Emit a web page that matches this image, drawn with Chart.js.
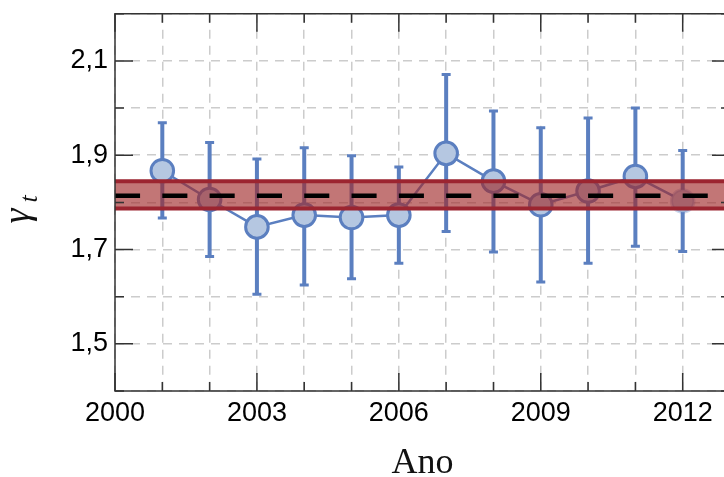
<!DOCTYPE html>
<html>
<head>
<meta charset="utf-8">
<script src="https://cdn.jsdelivr.net/npm/chart.js@4"></script>
<style>
  body { margin: 0; background: #fff; }
  #wrap { width: 724px; height: 477px; overflow: hidden; }
</style>
</head>
<body>
<div id="wrap"><canvas id="chart" width="740" height="477"></canvas></div>
<script>
const years = [2001, 2002, 2003, 2004, 2005, 2006, 2007, 2008, 2009, 2010, 2011, 2012];
const gamma = [1.867, 1.806, 1.748, 1.773, 1.768, 1.773, 1.904, 1.845, 1.795, 1.824, 1.855, 1.803];
const upper = [1.969, 1.927, 1.892, 1.916, 1.899, 1.875, 2.071, 1.994, 1.958, 1.979, 2.000, 1.910];
const lower = [1.767, 1.685, 1.605, 1.625, 1.638, 1.671, 1.738, 1.695, 1.631, 1.671, 1.707, 1.696];
const bandLow = 1.787;
const bandHigh = 1.845;
const meanValue = 1.814;
const xTickLabels = ["2000", "2003", "2006", "2009", "2012"];
const yTickLabels = ["1,5", "1,7", "1,9", "2,1"];

const blue = "#5b7fc0";
const blueFill = "#b5c7e1";
const frameColor = "#333";

// error bars under the points
const errorBars = {
  id: "errorBars",
  beforeDatasetsDraw(chart) {
    const { ctx, scales: { x, y } } = chart;
    ctx.save();
    ctx.strokeStyle = blue;
    years.forEach((yr, i) => {
      const px = x.getPixelForValue(yr);
      const top = y.getPixelForValue(upper[i]);
      const bot = y.getPixelForValue(lower[i]);
      ctx.lineWidth = 4;
      ctx.beginPath();
      ctx.moveTo(px, top);
      ctx.lineTo(px, bot);
      ctx.stroke();
      ctx.lineWidth = 3;
      ctx.beginPath();
      ctx.moveTo(px - 4.5, top);
      ctx.lineTo(px + 4.5, top);
      ctx.moveTo(px - 4.5, bot);
      ctx.lineTo(px + 4.5, bot);
      ctx.stroke();
    });
    ctx.restore();
  },
};

// band, mean line, frame with inward ticks, y title
const overlay = {
  id: "overlay",
  afterDatasetsDraw(chart) {
    const { ctx, chartArea: a, scales: { x, y } } = chart;
    const yHi = y.getPixelForValue(bandHigh);
    const yLo = y.getPixelForValue(bandLow);
    ctx.save();
    ctx.fillStyle = "rgba(160, 40, 40, 0.64)";
    ctx.fillRect(a.left, yHi, a.right - a.left, yLo - yHi);
    ctx.strokeStyle = "#9c2530";
    ctx.lineWidth = 4;
    ctx.beginPath();
    ctx.moveTo(a.left, yHi);
    ctx.lineTo(a.right, yHi);
    ctx.moveTo(a.left, yLo);
    ctx.lineTo(a.right, yLo);
    ctx.stroke();

    const perYear = x.getPixelForValue(2001) - x.getPixelForValue(2000);
    const ym = y.getPixelForValue(meanValue);
    ctx.strokeStyle = "#000";
    ctx.lineWidth = 4.5;
    ctx.setLineDash([perYear * 0.53, perYear * 0.47]);
    ctx.beginPath();
    ctx.moveTo(a.left, ym);
    ctx.lineTo(a.right, ym);
    ctx.stroke();
    ctx.setLineDash([]);

    ctx.strokeStyle = frameColor;
    ctx.lineWidth = 1.5;
    ctx.strokeRect(a.left, a.top, a.right - a.left, a.bottom - a.top);
    ctx.beginPath();
    x.ticks.forEach((t) => {
      const px = x.getPixelForValue(t.value);
      const len = xTickLabels.includes(String(t.value)) ? 18 : 9;
      ctx.moveTo(px, a.bottom);
      ctx.lineTo(px, a.bottom - len);
      ctx.moveTo(px, a.top);
      ctx.lineTo(px, a.top + len);
    });
    y.ticks.forEach((t) => {
      const py = y.getPixelForValue(t.value);
      const len = yTickLabels.includes(t.value.toFixed(1).replace(".", ",")) ? 18 : 9;
      ctx.moveTo(a.left, py);
      ctx.lineTo(a.left + len, py);
      ctx.moveTo(a.right, py);
      ctx.lineTo(a.right - len, py);
    });
    ctx.stroke();
    ctx.restore();
  },
  afterDraw(chart) {
    const { ctx } = chart;
    ctx.save();
    ctx.translate(29, 216);
    ctx.rotate(-Math.PI / 2);
    ctx.fillStyle = "#111";
    ctx.textAlign = "center";
    ctx.textBaseline = "alphabetic";
    ctx.font = "italic 38px 'Liberation Serif', serif";
    ctx.fillText("γ", 0, 0);
    ctx.font = "italic 26px 'Liberation Serif', serif";
    ctx.fillText("t", 17, 8);
    ctx.restore();
  },
};

const lastIdx = years.length - 1;

new Chart(document.getElementById("chart"), {
  type: "line",
  data: {
    datasets: [
      {
        data: years.map((yr, i) => ({ x: yr, y: gamma[i] })),
        borderColor: blue,
        borderWidth: 2.5,
        pointRadius: 11.3,
        pointBorderWidth: 3,
        pointBackgroundColor: blueFill,
        // last point is drawn faded in the original
        pointBorderColor: (c) => (c.dataIndex === lastIdx ? "rgba(91, 127, 192, 0.3)" : blue),
        tension: 0,
      },
    ],
  },
  options: {
    responsive: false,
    devicePixelRatio: 1,
    animation: false,
    layout: { autoPadding: false, padding: { top: 10, right: 10, left: 0, bottom: 0 } },
    plugins: { legend: { display: false }, tooltip: { enabled: false } },
    scales: {
      x: {
        type: "linear",
        min: 2000,
        max: 2013,
        afterFit: (s) => {
          s.height = 86;
        },
        ticks: {
          stepSize: 1,
          padding: 6,
          color: "#000",
          font: { family: "'Liberation Sans', Arial, sans-serif", size: 27 },
          maxRotation: 0,
          autoSkip: false,
          callback: (v) => (xTickLabels.includes(String(v)) ? String(v) : ""),
        },
        grid: { color: "#cccccc", lineWidth: 1.5, drawTicks: false },
        border: { display: false, dash: [9, 7] },
        title: {
          display: true,
          text: "Ano",
          color: "#111",
          font: { family: "'Liberation Serif', serif", size: 36, lineHeight: 0.72 },
          padding: { top: 0, bottom: 0 },
        },
      },
      y: {
        min: 1.4,
        max: 2.2,
        afterFit: (s) => {
          s.width = 115;
        },
        ticks: {
          stepSize: 0.1,
          padding: 7,
          color: "#000",
          font: { family: "'Liberation Sans', Arial, sans-serif", size: 27, lineHeight: 0.5 },
          autoSkip: false,
          callback: (v) => {
            const s = Number(v).toFixed(1).replace(".", ",");
            return yTickLabels.includes(s) ? s : "";
          },
        },
        grid: { color: "#cccccc", lineWidth: 1.5, drawTicks: false },
        border: { display: false, dash: [9, 7] },
      },
    },
  },
  plugins: [errorBars, overlay],
});
</script>
</body>
</html>
